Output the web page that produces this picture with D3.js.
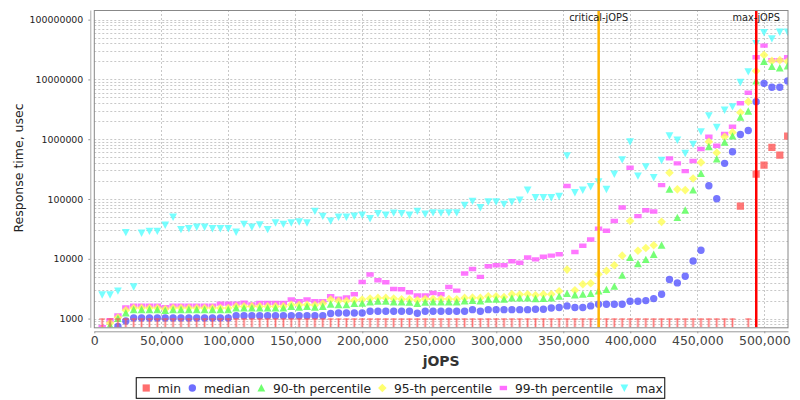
<!DOCTYPE html>
<html>
<head>
<meta charset="utf-8">
<script src="https://cdn.jsdelivr.net/npm/d3@7"></script>
<style>
  body { margin: 0; background: #fff; }
  svg { display: block; font-family: "DejaVu Sans", sans-serif; }
</style>
</head>
<body>
<script>
// jOPS of each RT-curve step
const jops = [
  5880, 11760, 17640, 23520, 29400, 35280, 41160, 47040, 52920, 58800,
  64680, 70560, 76440, 82320, 88200, 94080, 99960, 105840, 111720, 117600,
  123480, 129360, 135240, 141120, 147000, 152880, 158760, 164640, 170520, 176400,
  182280, 188160, 194040, 199920, 205800, 211680, 217560, 223440, 229320, 235200,
  241080, 246960, 252840, 258720, 264600, 270480, 276360, 282240, 288120, 294000,
  299880, 305760, 311640, 317520, 323400, 329280, 335160, 341040, 346920, 352800,
  358680, 364560, 370440, 376320, 382200, 388080, 393960, 399840, 405720, 411600,
  417480, 423360, 429240, 435120, 441000, 446880, 452760, 458640, 464520, 470400,
  476280, 482160, 488040, 493920, 499800, 505680, 511560, 517440];

// response times, usec
const minRt = [
  1000, 1000, 1000, 1000, 1000, 1000, 1000, 1000, 1000, 1000,
  1000, 1000, 1000, 1000, 1000, 1000, 1000, 1000, 1000, 1000,
  1000, 1000, 1000, 1000, 1000, 1000, 1000, 1000, 1000, 1000,
  1000, 1000, 1000, 1000, 1000, 1000, 1000, 1000, 1000, 1000,
  1000, 1000, 1000, 1000, 1000, 1000, 1000, 1000, 1000, 1000,
  1000, 1000, 1000, 1000, 1000, 1000, 1000, 1000, 1000, 1000,
  1000, 1000, 1000, 1000, 1000, 1000, 1000, 1000, 1000, 1000,
  1000, 1000, 1000, 1000, 1000, 1000, 1000, 1000, 1000, 1000,
  1000, 76000, 1000, 261000, 370000, 732000, 543000, 1130000];

const medianRt = [
  550, 620, 740, 910, 1020, 1020, 1020, 1020, 1020, 1020,
  1020, 1020, 1020, 1020, 1020, 1020, 1020, 1120, 1120, 1120,
  1120, 1120, 1120, 1120, 1120, 1120, 1120, 1120, 1120, 1220,
  1240, 1240, 1240, 1240, 1330, 1330, 1330, 1330, 1330, 1330,
  1230, 1330, 1330, 1330, 1330, 1330, 1330, 1410, 1330, 1410,
  1410, 1410, 1410, 1410, 1410, 1430, 1430, 1500, 1530, 1630,
  1530, 1530, 1630, 1740, 1740, 1740, 1740, 1950, 1950, 2000,
  2160, 2550, 4500, 3950, 5100, 9200, 13900, 167000, 101000, 395000,
  618000, 1200000, 1400000, 4250000, 8600000, 7400000, 7400000, 9400000];

const p90Rt = [
  600, 770, 1000, 1240, 1410, 1410, 1410, 1410, 1360, 1410,
  1410, 1410, 1410, 1410, 1410, 1410, 1410, 1500, 1500, 1500,
  1500, 1500, 1500, 1500, 1600, 1550, 1600, 1550, 1600, 1740,
  1700, 1700, 1780, 1800, 1900, 1950, 1950, 1900, 1900, 1870,
  1780, 1880, 1900, 1900, 1900, 1900, 1970, 2000, 1970, 2100,
  2100, 2100, 2200, 2200, 2200, 2150, 2160, 2200, 2360, 2620,
  2480, 2550, 2620, 2900, 3060, 3470, 5300, 10500, 8300, 9700,
  11800, 16900, 145000, 49000, 65000, 141000, 268000, 750000, 465000, 890000,
  1130000, 2330000, 2950000, 9400000, 20000000, 16400000, 15600000, 16800000];

const p95Rt = [
  650, 840, 1040, 1380, 1500, 1500, 1500, 1500, 1450, 1500,
  1500, 1500, 1500, 1500, 1500, 1500, 1500, 1600, 1600, 1600,
  1600, 1600, 1600, 1600, 1700, 1680, 1700, 1680, 1780, 2080,
  1970, 1970, 2020, 2080, 2160, 2220, 2220, 2160, 2100, 2100,
  2020, 2130, 2130, 2130, 2130, 2100, 2220, 2240, 2220, 2360,
  2360, 2300, 2550, 2520, 2550, 2450, 2550, 2550, 2870, 6600,
  2980, 3760, 3900, 5500, 6300, 7800, 11300, 43000, 13600, 15200,
  16900, 41500, 275000, 145000, 141000, 220000, 410000, 908000, 594000, 1100000,
  1300000, 2800000, 4250000, 13900000, 25700000, 20400000, 21000000, 20000000];

const p99Rt = [
  720, 940, 1130, 1530, 1650, 1650, 1650, 1650, 1550, 1650,
  1650, 1650, 1650, 1650, 1650, 1780, 1780, 1780, 1850, 1720,
  1820, 1820, 1820, 1820, 2080, 1950, 2080, 1950, 1950, 2360,
  2160, 2250, 2550, 4100, 5450, 4380, 4050, 3130, 3100, 2760,
  2430, 2430, 2680, 2550, 3380, 2940, 5670, 6770, 4980, 7500,
  7800, 7800, 9100, 8600, 10500, 9800, 10800, 11300, 11900, 165000,
  13000, 16500, 21000, 32000, 29500, 43000, 72000, 333000, 51700, 65000,
  62000, 171000, 479000, 395000, 293000, 432000, 685000, 1100000, 778000, 1220000,
  1620000, 4000000, 6000000, 23500000, 36800000, 21000000, 21000000, 23500000];

const maxRt = [
  2500, 2500, 2900, 27600, 3400, 27000, 29000, 29000, 36600, 50000,
  31000, 32000, 34000, 34000, 32000, 32000, 32000, 28000, 38000, 34000,
  37000, 31000, 40000, 38000, 40000, 41500, 40000, 62700, 51700, 43000,
  50000, 50000, 52000, 54000, 47000, 57000, 54000, 58600, 57000, 54000,
  62700, 56000, 59000, 58600, 59000, 59000, 79000, 92000, 72000, 90000,
  90000, 82000, 90000, 96000, 141000, 106000, 106000, 106000, 111000, 530000,
  128000, 141000, 162000, 194000, 145000, 261000, 455000, 908000, 243000, 347000,
  230000, 443000, 1140000, 970000, 580000, 826000, 1340000, 2480000, 1580000, 3080000,
  3500000, 8970000, 13500000, 40000000, 61000000, 48000000, 62000000, 62000000];

const seriesNames = ["min", "median", "90-th percentile", "95-th percentile", "99-th percentile", "max"];
const xTicks = [0, 50000, 100000, 150000, 200000, 250000, 300000, 350000, 400000, 450000, 500000];
const yTicks = [1000, 10000, 100000, 1000000, 10000000, 100000000];
const criticalJops = 376400;
const maxJops = 494000;

const width = 800, height = 400;
const margin = {top: 10, right: 12, bottom: 72.7, left: 94.3};

const x = d3.scaleLinear()
    .domain([0, 517700])
    .range([margin.left, width - margin.right]);

const y = d3.scaleLog()
    .domain([715, 1.45e8])
    .range([height - margin.bottom, margin.top]);

const plotBottom = height - margin.bottom;

// JFreeChart-like marker shapes
const shapes = {
  square:  "M-3.6,-3.6h7.2v7.2h-7.2Z",
  circle:  "M3.7,0A3.7,3.7 0 1 1 -3.7,0A3.7,3.7 0 1 1 3.7,0Z",
  triUp:   "M0,-3.9L3.9,3.5L-3.9,3.5Z",
  diamond: "M0,-4.3L4.3,0L0,4.3L-4.3,0Z",
  hrect:   "M-3.7,-2.2h7.4v4.4h-7.4Z",
  triDown: "M0,3.9L3.9,-3.5L-3.9,-3.5Z"
};

const series = [
  {name: seriesNames[0], values: minRt,    color: "#ff5555", shape: "square"},
  {name: seriesNames[1], values: medianRt, color: "#5555ff", shape: "circle"},
  {name: seriesNames[2], values: p90Rt,    color: "#55ff55", shape: "triUp"},
  {name: seriesNames[3], values: p95Rt,    color: "#ffff55", shape: "diamond"},
  {name: seriesNames[4], values: p99Rt,    color: "#ff55ff", shape: "hrect"},
  {name: seriesNames[5], values: maxRt,    color: "#55ffff", shape: "triDown"}
];

const svg = d3.select("body").append("svg")
    .attr("width", width)
    .attr("height", height)
    .attr("viewBox", [0, 0, width, height]);

svg.append("defs").append("clipPath").attr("id", "plot-clip")
  .append("rect")
    .attr("x", margin.left).attr("y", margin.top)
    .attr("width", width - margin.right - margin.left)
    .attr("height", plotBottom - margin.top);

// grid
const grid = svg.append("g")
    .attr("stroke", "#c8c8c8")
    .attr("stroke-dasharray", "2,2")
    .attr("stroke-width", 1);

const minorY = [];
yTicks.forEach(d => { for (let k = 1; k < 10; k++) minorY.push(d * k); });
minorY.push(...[1, 2, 3, 4, 5, 6, 7, 8, 9].map(k => 100 * k));

grid.selectAll("line.h")
  .data(minorY.filter(v => v >= y.domain()[0] && v <= y.domain()[1]))
  .join("line")
    .attr("class", "h")
    .attr("x1", margin.left).attr("x2", width - margin.right)
    .attr("y1", d => Math.round(y(d)) + 0.5).attr("y2", d => Math.round(y(d)) + 0.5);

grid.selectAll("line.v")
  .data(xTicks.slice(1))
  .join("line")
    .attr("class", "v")
    .attr("y1", margin.top).attr("y2", plotBottom)
    .attr("x1", d => Math.round(x(d)) + 0.5).attr("x2", d => Math.round(x(d)) + 0.5);

// markers, first series drawn on top
const plot = svg.append("g").attr("clip-path", "url(#plot-clip)");

series.slice().reverse().forEach(s => {
  const g = plot.append("g");
  s.values.forEach((v, i) => {
    if (s.name === "min" && v <= 1000) {
      // min at or below 1 ms: drawn as a bar from 1000 down to the axis
      const cx = x(jops[i]), top = y(1000);
      g.append("rect")
          .attr("x", cx - 1.5).attr("y", top)
          .attr("width", 3).attr("height", plotBottom - top)
          .attr("fill", s.color).attr("fill-opacity", 0.3);
      g.append("line")
          .attr("x1", cx).attr("x2", cx).attr("y1", top).attr("y2", plotBottom)
          .attr("stroke", s.color).attr("stroke-opacity", 0.75);
      g.append("line")
          .attr("x1", cx - 3).attr("x2", cx + 3).attr("y1", top + 0.5).attr("y2", top + 0.5)
          .attr("stroke", s.color).attr("stroke-opacity", 0.6).attr("stroke-width", 1.5);
      return;
    }
    g.append("path")
        .attr("d", shapes[s.shape])
        .attr("transform", `translate(${x(jops[i])},${y(v)})`)
        .attr("fill", s.color)
        .attr("fill-opacity", 0.8);
  });
});

// jOPS markers
const refs = [
  {value: criticalJops, label: "critical-jOPS", color: "#ffb400"},
  {value: maxJops, label: "max-jOPS", color: "#ff0000"}
];
refs.forEach(r => {
  svg.append("line")
      .attr("x1", x(r.value)).attr("x2", x(r.value))
      .attr("y1", margin.top).attr("y2", plotBottom)
      .attr("stroke", r.color).attr("stroke-width", 2.5);
  svg.append("text")
      .attr("x", x(r.value)).attr("y", 20.5)
      .attr("text-anchor", "middle")
      .attr("font-size", 9.8)
      .attr("fill", "#222")
      .text(r.label);
});

// plot frame
svg.append("rect")
    .attr("x", margin.left).attr("y", margin.top + 0.5)
    .attr("width", width - margin.right - margin.left)
    .attr("height", plotBottom - margin.top)
    .attr("fill", "none")
    .attr("stroke", "#888");

// axes
const xAxis = svg.append("g")
    .attr("transform", `translate(0,${plotBottom + 4})`)
    .call(d3.axisBottom(x).tickValues(xTicks).tickFormat(d3.format(",")).tickSize(2).tickPadding(3).tickSizeOuter(0));
xAxis.select(".domain").attr("stroke", "#999");
xAxis.selectAll(".tick line").attr("stroke", "#999");
xAxis.selectAll("text").attr("font-size", 12.5).attr("fill", "#444")
    .attr("font-family", "DejaVu Sans");

const yAxis = svg.append("g")
    .attr("transform", `translate(${margin.left - 4},0)`)
    .call(d3.axisLeft(y).tickValues(yTicks).tickFormat(d3.format("d")).tickSize(2).tickPadding(5).tickSizeOuter(0));
yAxis.select(".domain").attr("stroke", "#aaa");
yAxis.selectAll(".tick line").attr("stroke", "#999");
yAxis.selectAll("text").attr("font-size", 9.4).attr("fill", "#222")
    .attr("font-family", "DejaVu Sans");

svg.append("text")
    .attr("transform", `translate(18,168) rotate(-90)`)
    .attr("text-anchor", "middle")
    .attr("dominant-baseline", "central")
    .attr("font-size", 12.5)
    .attr("fill", "#222")
    .text("Response time, usec");

svg.append("text")
    .attr("x", (margin.left + width - margin.right) / 2)
    .attr("y", 365.5)
    .attr("text-anchor", "middle")
    .attr("font-size", 14)
    .attr("font-weight", "bold")
    .attr("fill", "#333")
    .text("jOPS");

// legend
const legend = svg.append("g");
const box = legend.append("rect")
    .attr("fill", "#fff").attr("stroke", "#000");
let cx = 0;
series.forEach(s => {
  legend.append("path")
      .attr("d", shapes[s.shape])
      .attr("transform", `translate(${cx},388)`)
      .attr("fill", s.color).attr("fill-opacity", 0.85);
  const t = legend.append("text")
      .attr("x", cx + 11.6).attr("y", 392.5)
      .attr("font-size", 12.3)
      .attr("fill", "#222")
      .text(s.name);
  cx = cx + 11.6 + t.node().getComputedTextLength() + 11.3;
});
const boxLeft = -10, boxRight = cx - 11.3 + 2;
box.attr("x", boxLeft).attr("y", 377.7)
   .attr("width", boxRight - boxLeft).attr("height", 20.6);
legend.attr("transform", `translate(${400.5 - (boxLeft + boxRight) / 2},0)`);
</script>
</body>
</html>
